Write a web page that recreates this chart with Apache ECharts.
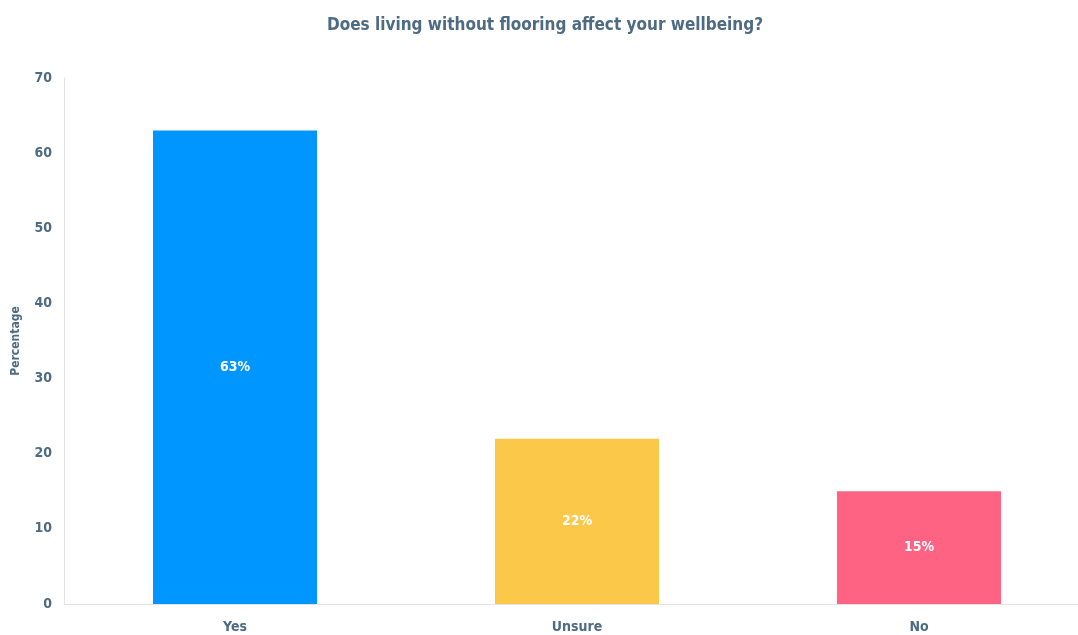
<!DOCTYPE html>
<html>
<head>
<meta charset="utf-8">
<script src="https://cdn.jsdelivr.net/npm/echarts@6/dist/echarts.min.js"></script>
<style>
  html, body { margin: 0; padding: 0; background: #fff; overflow: hidden; }
  #chart { width: 1090px; height: 635px; }
</style>
</head>
<body>
<div id="chart"></div>
<script>
const categories = ['Yes', 'Unsure', 'No'];
const percentages = [63, 22, 15];
const barColors = ['#0096ff', '#fcc84a', '#ff6384'];
const yTicks = [0, 10, 20, 30, 40, 50, 60, 70];

const textColor = '#4d6b83';
const fontFamily = '"DejaVu Sans Condensed", sans-serif';

const chart = echarts.init(document.getElementById('chart'));

chart.setOption({
  animation: false,
  textStyle: { fontFamily },
  title: {
    text: 'Does living without flooring affect your wellbeing?',
    left: 'center',
    top: 12,
    textStyle: { color: textColor, fontSize: 17, fontWeight: 'bold', fontFamily }
  },
  grid: { left: 64, right: 0, top: 78, bottom: 31 },
  xAxis: {
    type: 'category',
    data: categories,
    axisLine: { lineStyle: { color: '#e3e3e3' } },
    axisTick: { show: false },
    axisLabel: { color: textColor, fontSize: 14, fontWeight: 'bold', margin: 16 }
  },
  yAxis: {
    type: 'value',
    min: yTicks[0],
    max: yTicks[yTicks.length - 1],
    interval: 10,
    name: 'Percentage',
    nameLocation: 'middle',
    nameGap: 42,
    nameTextStyle: { color: textColor, fontSize: 12, fontWeight: 'bold' },
    axisLine: { show: true, lineStyle: { color: '#e3e3e3' } },
    axisTick: { show: false },
    splitLine: { show: false },
    axisLabel: { color: textColor, fontSize: 14, fontWeight: 'bold', margin: 12 }
  },
  series: [
    {
      type: 'bar',
      barWidth: 164,
      data: percentages.map((v, i) => ({ value: v, itemStyle: { color: barColors[i] } })),
      label: {
        show: true,
        position: 'inside',
        color: '#fff',
        fontSize: 14,
        fontWeight: 'bold',
        formatter: p => p.value + '%'
      }
    }
  ]
});
</script>
</body>
</html>
